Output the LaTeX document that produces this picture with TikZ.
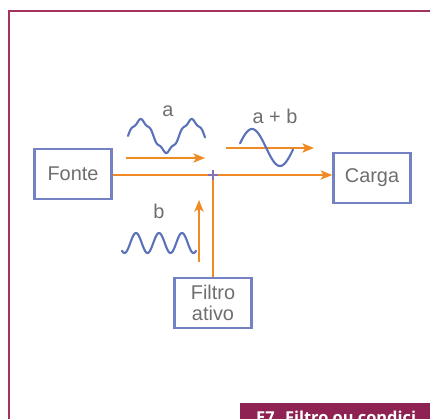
\documentclass[tikz,border=0pt]{standalone}
\usepackage{fontspec}
\setmainfont{Liberation Sans}
\newfontfamily\barfont{Open Sans}
\usetikzlibrary{arrows.meta,calc}

\definecolor{boxblue}{HTML}{7482C4}
\definecolor{sigorange}{HTML}{F08A24}
\definecolor{waveblue}{HTML}{5B72B8}
\definecolor{framered}{HTML}{A2325E}
\definecolor{barred}{HTML}{8E2252}
\definecolor{labelgray}{HTML}{6E6E6E}
\definecolor{joinviolet}{HTML}{8474B4}

\begin{document}
\begin{tikzpicture}[x=0.03cm, y=-0.03cm, font=\fontsize{17}{18}\selectfont,
  block/.style={draw=boxblue, line width=2.4pt, text=labelgray, inner sep=0pt,
    align=center, minimum width=2.3cm, minimum height=1.5cm},
  flow/.style={sigorange, line width=1.1pt, -{Stealth[length=10pt, width=8pt, inset=2.5pt]}},
  wave/.style={waveblue, line width=1.8pt, line cap=round, line join=round},
  siglabel/.style={labelgray, anchor=base}]

\useasboundingbox (0,0) rectangle (430,418);
\clip (0,0) rectangle (430,418);

% Frame (cut at the right and bottom)
\draw[framered, line width=1.5pt] (440,11) -- (9,11) -- (9,430);

% Caption bar
\fill[barred] (240,403) rectangle (440,430);
\node[white, anchor=base west, font=\barfont\bfseries\fontsize{14}{16}\selectfont]
  (caption) at (252,423) {E7. Filtro ou condici};

% Blocks
\node[block] (fonte) at (73,174) {Fonte};
\node[block] (carga) at (372,178) {Carga};
\node[block] (filtro) at (213,303) {Filtro\\ativo};

% Main line from source to load, through the junction
\coordinate (j) at (213,175);
\draw[flow] (fonte.east |- j) -- (j) -- (j -| carga.west);
\draw[sigorange, line width=1.1pt] (filtro.north) -- (j);

% Junction mark
\draw[joinviolet, line width=1.8pt] ($(j)+(-5,0)$) -- ($(j)+(5,0)$);
\draw[joinviolet, line width=1.8pt] ($(j)+(0,-5)$) -- ($(j)+(0,5)$);

% Signal arrows
\coordinate (a1) at (126,158);
\coordinate (a2) at (205,158);
\draw[flow] (a1) -- (a2);
\coordinate (s1) at (226,148);
\coordinate (s2) at (314,148);
\draw[flow] (s1) -- (s2);
\coordinate (b1) at (199,262);
\coordinate (b2) at (199,200);
\draw[flow] (b1) -- (b2);

% Wave a (distorted)
\draw[wave] plot[domain=0:77, samples=150]
  ({128+\x}, {136-15.5*(sin(\x/51*360)+0.1*sin(5*\x/51*360))});
\node[siglabel] (la) at (168,116) {a};

% Wave a + b (clean sine)
\draw[wave] plot[domain=240:293, samples=80]
  ({\x}, {147.5-18.5*sin(90+(\x-252)/56*360)});
\node[siglabel] (lab) at (275,123) {a + b};

% Wave b (compensation)
\draw[wave] plot[domain=122:196, samples=120]
  ({\x}, {243-10*sin(90+(\x-136)/23*360)});
\node[siglabel] (lb) at (159,218) {b};

\end{tikzpicture}
\end{document}
